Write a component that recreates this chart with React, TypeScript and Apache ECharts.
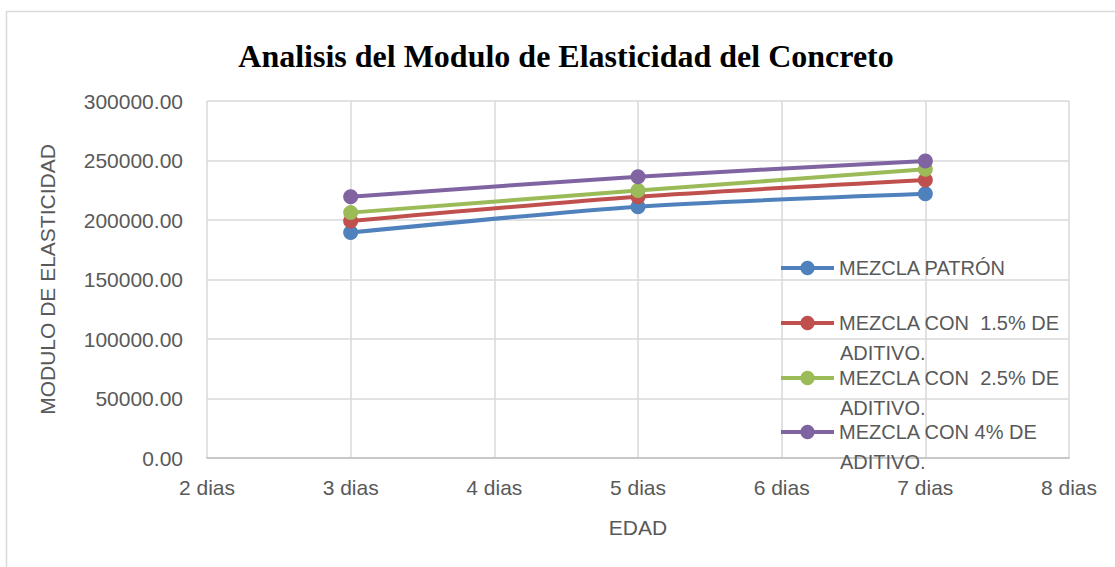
import React, { useEffect, useRef } from "react";
import * as echarts from "echarts";

const dias = [3, 5, 7];
const seriesNames = [
  "MEZCLA PATRÓN",
  "MEZCLA CON  1.5% DE ADITIVO.",
  "MEZCLA CON  2.5% DE ADITIVO.",
  "MEZCLA CON 4% DE ADITIVO.",
];
const patron = [189500, 211200, 222000];
const aditivo15 = [199200, 219600, 233600];
const aditivo25 = [206200, 224700, 242600];
const aditivo4 = [219600, 236400, 249600];
const colors = ["#4F81BD", "#C0504D", "#9BBB59", "#8064A2"];
const legendTops = [268, 323, 378, 432];
const secondLineY = [null, 353, 408, 462];

export default function App() {
  const ref = useRef<HTMLDivElement>(null);
  useEffect(() => {
    if (!ref.current) return;
    const chart = echarts.init(ref.current, null, { renderer: "svg" });
    const values = [patron, aditivo15, aditivo25, aditivo4];
    const font = "'Liberation Sans', Arial, sans-serif";
    const series = values.map((v, i) => ({
      name: seriesNames[i],
      type: "line",
      data: v.map((y, j) => [dias[j], y]),
      symbol: "circle",
      symbolSize: 15,
      smooth: 0.25,
      lineStyle: { width: 4, color: colors[i] },
      itemStyle: { color: colors[i] },
      z: 3 + i,
    }));
    const legends = seriesNames.map((n, i) => ({
      data: [n],
      orient: "vertical",
      left: 779,
      top: legendTops[i] - 10,
      padding: 0,
      itemWidth: 53,
      itemHeight: 18,
      itemGap: 0,
      lineStyle: { width: 4 },
      formatter: (name: string) => name.replace(" ADITIVO.", ""),
      textStyle: { color: "#595959", fontSize: 20, fontFamily: font, lineHeight: 20 },
    }));
    const graphics: any[] = [
      {
        type: "rect",
        shape: { x: 6.5, y: 11.5, width: 1200, height: 600 },
        style: { fill: "none", stroke: "#d9d9d9", lineWidth: 1.5 },
        z: -1,
      },
    ];
    secondLineY.forEach((y) => {
      if (y == null) return;
      graphics.push({
        type: "text",
        x: 840,
        y: y,
        style: {
          text: "ADITIVO.",
          fill: "#595959",
          font: `20px ${font}`,
          textVerticalAlign: "middle",
        },
        z: 10,
      });
    });
    chart.setOption({
      animation: false,
      backgroundColor: "#ffffff",
      color: colors,
      title: {
        text: "Analisis del Modulo de Elasticidad del Concreto",
        left: 561,
        textAlign: "center",
        top: 35,
        textStyle: {
          fontFamily: "'Liberation Serif', 'Times New Roman', serif",
          fontWeight: "bold",
          fontSize: 32,
          color: "#000000",
        },
      },
      legend: legends,
      grid: { left: 207, right: 46, top: 101, bottom: 109 },
      xAxis: {
        type: "value",
        min: 2,
        max: 8,
        interval: 1,
        name: "EDAD",
        nameLocation: "middle",
        nameGap: 59,
        nameTextStyle: { color: "#595959", fontSize: 21, fontFamily: font },
        axisLine: { show: true, lineStyle: { color: "#bfbfbf", width: 1.5 } },
        axisTick: { show: false },
        splitLine: { show: true, lineStyle: { color: "#d9d9d9", width: 1.5 } },
        axisLabel: {
          margin: 19,
          color: "#595959",
          fontSize: 21,
          fontFamily: font,
          formatter: (v: number) => `${v} dias`,
        },
      },
      yAxis: {
        type: "value",
        min: 0,
        max: 300000,
        interval: 50000,
        name: "MODULO DE ELASTICIDAD",
        nameLocation: "middle",
        nameGap: 149,
        nameTextStyle: { color: "#595959", fontSize: 21, fontFamily: font },
        axisLine: { show: false },
        axisTick: { show: false },
        splitLine: { show: true, lineStyle: { color: "#d9d9d9", width: 1.5 } },
        axisLabel: {
          margin: 24,
          color: "#595959",
          fontSize: 21,
          fontFamily: font,
          formatter: (v: number) => v.toFixed(2),
        },
      },
      series,
      graphic: graphics,
    });
    return () => chart.dispose();
  }, []);
  return (
    <div
      ref={ref}
      style={{ position: "fixed", left: 0, top: 0, width: 1115, height: 567 }}
    />
  );
}
